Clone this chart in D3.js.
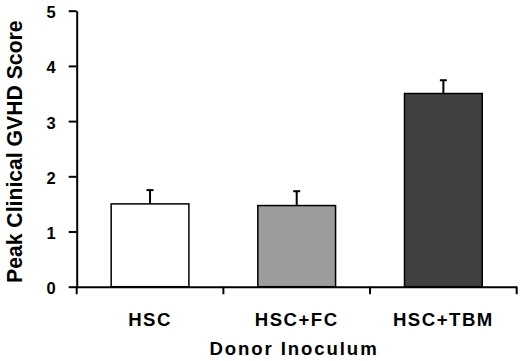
<!DOCTYPE html>
<html>
<head>
<meta charset="utf-8">
<script src="https://cdn.jsdelivr.net/npm/d3@7"></script>
<style>
  body { margin: 0; background: #fff; }
  text { font-family: "Liberation Sans", Arial, sans-serif; font-weight: bold; fill: #000; }
</style>
<script>
// data
var categories = ["HSC", "HSC+FC", "HSC+TBM"];
var scores = [1.5, 1.47, 3.5];
var errors = [0.25, 0.26, 0.24];
var fills = ["#ffffff", "#9c9c9c", "#404040"];
var yTicks = [0, 1, 2, 3, 4, 5];

function makeSVG() {
    var svg = d3.select("#fig");

    const margin = { left: 76.7, top: 10.7, right: 3.3, bottom: 74.3 };
    const width = +svg.attr("width");
    const height = +svg.attr("height");

    const ds = categories.map((c, i) => ({ cat: c, val: scores[i], err: errors[i], fill: fills[i] }));

    // scales
    const xSc = d3.scaleBand()
                  .domain(categories)
                  .range([margin.left, width - margin.right])
                  .paddingInner(0.47)
                  .paddingOuter(0.235);

    const ySc = d3.scaleLinear()
                  .domain([0, 5])
                  .range([height - margin.bottom, margin.top]);

    // bars
    svg.selectAll("rect.bar")
       .data(ds)
       .enter()
       .append("rect")
       .attr("class", "bar")
       .attr("x", d => xSc(d.cat))
       .attr("y", d => ySc(d.val))
       .attr("width", xSc.bandwidth())
       .attr("height", d => ySc(0) - ySc(d.val))
       .attr("fill", d => d.fill)
       .attr("stroke", "#000")
       .attr("stroke-width", 1.5);

    // error bars (upper only)
    var eg = svg.selectAll("g.err")
                .data(ds)
                .enter()
                .append("g")
                .attr("class", "err")
                .attr("stroke", "#000")
                .attr("stroke-width", 2);
    eg.append("line")
      .attr("x1", d => xSc(d.cat) + xSc.bandwidth() / 2)
      .attr("x2", d => xSc(d.cat) + xSc.bandwidth() / 2)
      .attr("y1", d => ySc(d.val))
      .attr("y2", d => ySc(d.val + d.err));
    eg.append("line")
      .attr("x1", d => xSc(d.cat) + xSc.bandwidth() / 2 - 3.5)
      .attr("x2", d => xSc(d.cat) + xSc.bandwidth() / 2 + 3.5)
      .attr("y1", d => ySc(d.val + d.err))
      .attr("y2", d => ySc(d.val + d.err));

    // y axis
    var yg = svg.append("g")
                .attr("transform", `translate(${margin.left},0)`)
                .call(d3.axisLeft(ySc).tickValues(yTicks).tickFormat(d3.format("d"))
                        .tickSize(8).tickSizeOuter(0).tickPadding(13));
    yg.selectAll("text").attr("font-size", 16.5).attr("dy", "0.42em")
      .style("font-family", null);
    yg.attr("font-family", null);

    // x axis: labels at band centres, ticks at band boundaries
    var xg = svg.append("g")
                .attr("transform", `translate(0,${ySc(0)})`)
                .call(d3.axisBottom(xSc).tickSize(0).tickSizeOuter(0).tickPadding(26.6));
    xg.selectAll("text").attr("font-size", 18.6).attr("letter-spacing", 1.5);
    xg.attr("font-family", null);

    xg.selectAll("line.bound")
      .data(d3.range(categories.length + 1))
      .enter()
      .append("line")
      .attr("class", "bound")
      .attr("x1", i => xSc.range()[0] + i * xSc.step())
      .attr("x2", i => xSc.range()[0] + i * xSc.step())
      .attr("y1", 0)
      .attr("y2", 7.5)
      .attr("stroke", "#000");

    svg.selectAll(".domain, .tick line, line.bound").attr("stroke-width", 2);

    // titles
    svg.append("text")
       .attr("transform", `translate(22,${(ySc(0) + ySc(5)) / 2 + 3}) rotate(-90)`)
       .attr("text-anchor", "middle")
       .attr("font-size", 21.2)
       .text("Peak Clinical GVHD Score");

    svg.append("text")
       .attr("x", 294)
       .attr("y", 355)
       .attr("text-anchor", "middle")
       .attr("font-size", 18.6)
       .attr("letter-spacing", 1.9)
       .text("Donor Inoculum");
}
</script>
</head>
<body onload="makeSVG()">
  <svg id="fig" width="520" height="361" style="background: #fff"></svg>
</body>
</html>
